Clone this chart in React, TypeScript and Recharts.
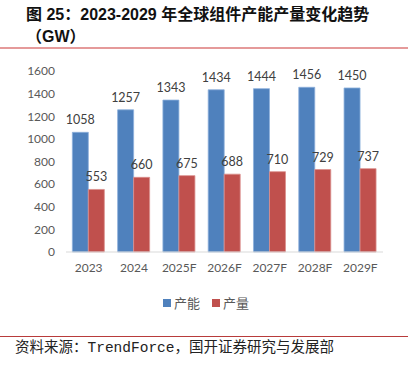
import { BarChart, Bar, XAxis, YAxis, LabelList } from 'recharts'

const years = ['2023', '2024', '2025F', '2026F', '2027F', '2028F', '2029F']
const capacity = [1058, 1257, 1343, 1434, 1444, 1456, 1450]
const output = [553, 660, 675, 688, 710, 729, 737]
const yTicks = [0, 200, 400, 600, 800, 1000, 1200, 1400, 1600]

const data = years.map((year, i) => ({ year, capacity: capacity[i], output: output[i] }))

const numFont = 'Lato, "Noto Sans", sans-serif'
const cjk = '"Noto Sans CJK SC", sans-serif'

const legendItems = [
  { name: '产能', color: '#4F81BD' },
  { name: '产量', color: '#C0504D' },
]

export default function App() {
  return (
    <div style={{ position: 'absolute', left: 0, top: 0, width: 419, height: 365, background: '#fff' }}>
      <div
        style={{
          position: 'absolute', left: 26, top: 4, fontSize: 16, fontWeight: 'bold', lineHeight: '22px',
          fontFamily: '"Liberation Sans", Arial, "Noto Sans CJK SC", sans-serif', color: '#111',
        }}
      >
        <div>图 25：2023-2029 年全球组件产能产量变化趋势</div>
        <div>（GW）</div>
      </div>
      <div style={{ position: 'absolute', left: 0, top: 47, width: 408, height: 2, background: '#E59A9A' }} />

      <div style={{ position: 'absolute', left: 0, top: 0 }}>
        <BarChart
          width={419}
          height={365}
          data={data}
          margin={{ top: 71, right: 36, bottom: 83, left: 0 }}
          barCategoryGap="14%"
          barGap={0}
        >
          <XAxis
            dataKey="year"
            height={30}
            tickLine={false}
            axisLine={{ stroke: '#D9D9D9' }}
            tick={{ fontSize: 12, fill: '#595959', fontFamily: numFont }}
            tickMargin={5}
          />
          <YAxis
            width={66}
            domain={[0, 1600]}
            ticks={yTicks}
            interval={0}
            axisLine={false}
            tickLine={false}
            tickMargin={5}
            tick={{ fontSize: 12, fill: '#595959', fontFamily: numFont }}
          />
          <Bar dataKey="capacity" name="产能" fill="#4F81BD" stroke="#8DB0DC" strokeWidth={0.8} isAnimationActive={false}>
            <LabelList dataKey="capacity" position="top" offset={8} fill="#404040" stroke="none" fontSize={12.5} fontFamily={numFont} />
          </Bar>
          <Bar dataKey="output" name="产量" fill="#C0504D" stroke="#DA8F8D" strokeWidth={0.8} isAnimationActive={false}>
            <LabelList dataKey="output" position="top" offset={8} fill="#404040" stroke="none" fontSize={12.5} fontFamily={numFont} />
          </Bar>
        </BarChart>
      </div>

      <div
        style={{
          position: 'absolute', left: 163, top: 293, display: 'flex', gap: 12,
          fontFamily: cjk, fontSize: 13, color: '#595959', lineHeight: '20px',
        }}
      >
        {legendItems.map((it) => (
          <span key={it.name} style={{ display: 'flex', alignItems: 'center', gap: 3 }}>
            <span style={{ width: 8, height: 8, background: it.color, display: 'inline-block' }} />
            {it.name}
          </span>
        ))}
      </div>

      <div style={{ position: 'absolute', left: 0, top: 336, width: 408, height: 1, background: '#B83B3B' }} />
      <div
        style={{
          position: 'absolute', left: 15, top: 338, fontSize: 14.5, lineHeight: '20px', color: '#222',
          fontFamily: '"Liberation Mono", "Noto Sans CJK SC", monospace', whiteSpace: 'nowrap',
        }}
      >
        资料来源：TrendForce，国开证券研究与发展部
      </div>
    </div>
  )
}
